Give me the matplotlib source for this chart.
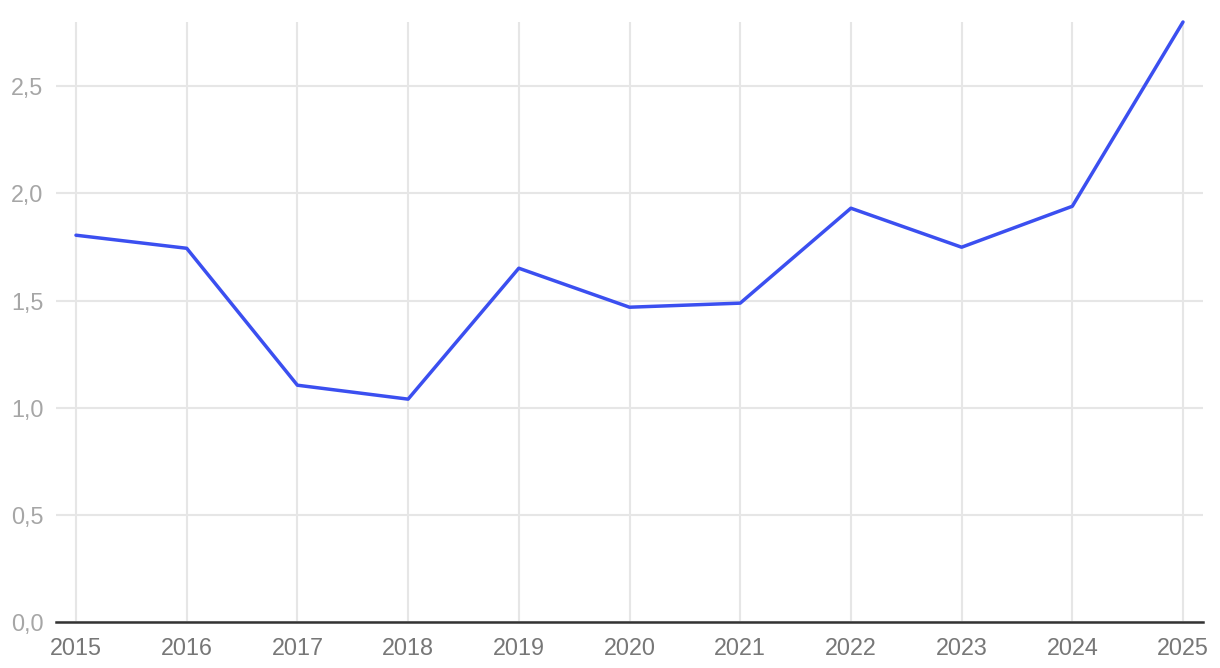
import numpy as np
import matplotlib.pyplot as plt
from matplotlib.ticker import FuncFormatter

years = [2015, 2016, 2017, 2018, 2019, 2020, 2021, 2022, 2023, 2024, 2025]
values = [1.805, 1.744, 1.105, 1.040, 1.651, 1.469, 1.488, 1.931, 1.749, 1.940, 2.80]
yticks = [0.0, 0.5, 1.0, 1.5, 2.0, 2.5]

plt.rcParams['font.family'] = ['Liberation Sans', 'DejaVu Sans']

fig = plt.figure(figsize=(12.2, 6.68), dpi=100)
ax = fig.add_axes([56/1220, 46/668, (1203-56)/1220, 600/668])

ax.plot(years, values, color='#3b4ff0', lw=2.5, solid_capstyle='round',
        solid_joinstyle='round', clip_on=False, zorder=3)

ax.set_xlim(2015 - 20/110.7, 2025 + 20/110.7)
ax.set_ylim(0, 2.8)
ax.set_xticks(years)
ax.set_yticks(yticks)
ax.yaxis.set_major_formatter(FuncFormatter(lambda v, p: f"{v:.1f}".replace('.', ',')))

ax.grid(True, color='#e6e6e6', lw=1.5)
ax.set_axisbelow(True)
for s in ['top', 'right', 'left']:
    ax.spines[s].set_visible(False)
ax.spines['bottom'].set_color('#333333')
ax.spines['bottom'].set_linewidth(1.8)
ax.spines['bottom'].set_zorder(4)

ax.tick_params(axis='x', length=0, pad=11, labelsize=16.8, labelcolor='#777777')
ax.tick_params(axis='y', length=0, pad=9, labelsize=16.8, labelcolor='#a6a6a6')

fig.savefig('out.png', dpi=100)
